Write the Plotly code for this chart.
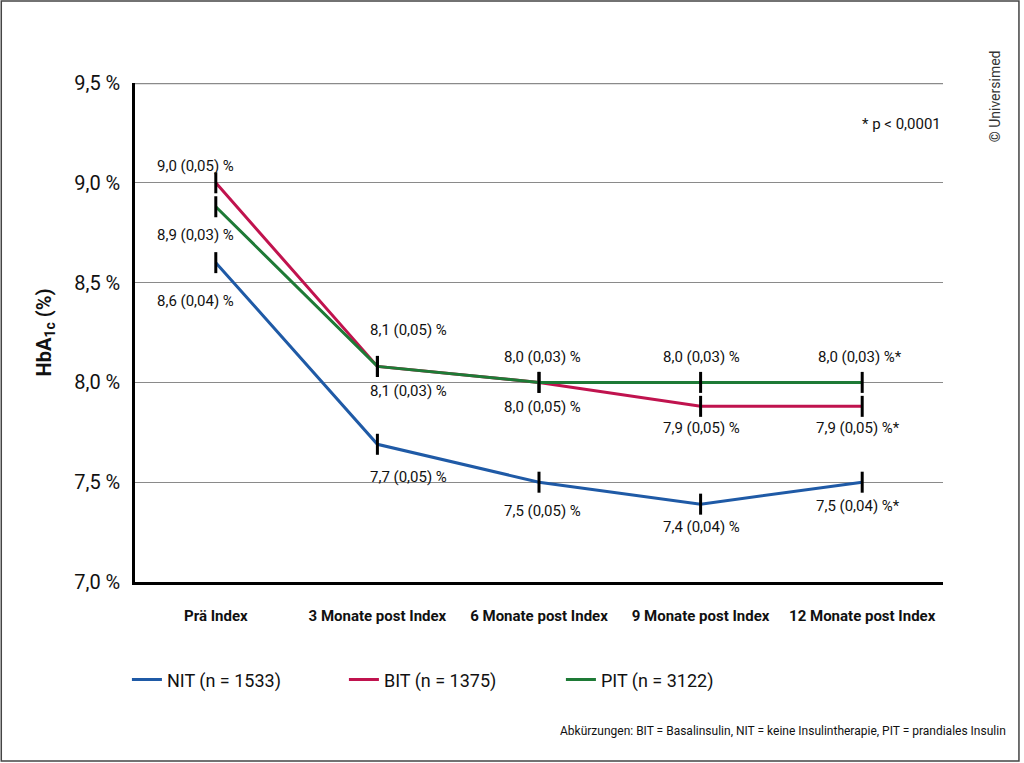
import plotly.graph_objects as go

# categories and values
zeitpunkte = ["Prä Index", "3 Monate post Index", "6 Monate post Index",
              "9 Monate post Index", "12 Monate post Index"]

nit = [8.60, 7.69, 7.50, 7.39, 7.50]
bit = [9.00, 8.08, 8.00, 7.88, 7.88]
pit = [8.88, 8.08, 8.00, 8.00, 8.00]

nit_labels = ["8,6 (0,04) %", "7,7 (0,05) %", "7,5 (0,05) %", "7,4 (0,04) %", "7,5 (0,04) %*"]
bit_labels = ["9,0 (0,05) %", "8,1 (0,05) %", "8,0 (0,05) %", "7,9 (0,05) %", "7,9 (0,05) %*"]
pit_labels = ["8,9 (0,03) %", "8,1 (0,03) %", "8,0 (0,03) %", "8,0 (0,03) %", "8,0 (0,03) %*"]

y_ticks = [7.0, 7.5, 8.0, 8.5, 9.0, 9.5]
y_ticktext = ["7,0 %", "7,5 %", "8,0 %", "8,5 %", "9,0 %", "9,5 %"]

FONT = "Roboto"

series = [
    ("NIT (n = 1533)", nit, nit_labels, "#1f5aa6"),
    ("BIT (n = 1375)", bit, bit_labels, "#c0134e"),
    ("PIT (n = 3122)", pit, pit_labels, "#1e7a36"),
]

# label offsets in pixels (x shift, y shift) per series and time point
offsets = {
    "NIT (n = 1533)": [(-20, -38), (31, -33), (3, -29), (1, -23), (-4, -24)],
    "BIT (n = 1375)": [(-20, 17), (31, 36), (3, -25), (1, -22), (-4, -22)],
    "PIT (n = 3122)": [(-20, -28), (31, -25), (3, 25), (1, 25), (-2, 25)],
}

fig = go.Figure()
annotations = []

for name, vals, labels, color in series:
    # line (also used for the legend)
    fig.add_trace(go.Scatter(
        x=zeitpunkte, y=vals, name=name, mode="lines",
        line=dict(color=color, width=3),
    ))
    # black tick marks at the points
    fig.add_trace(go.Scatter(
        x=zeitpunkte, y=vals, mode="markers", showlegend=False, hoverinfo="skip",
        marker=dict(symbol="line-ns", size=15, color="black",
                    line=dict(color="black", width=3)),
    ))
    for i, (xv, yv, lab) in enumerate(zip(zeitpunkte, vals, labels)):
        dx, dy = offsets[name][i]
        annotations.append(dict(
            x=xv, y=yv, xref="x", yref="y", text=lab, showarrow=False,
            xshift=dx, yshift=dy, font=dict(family=FONT, size=15, color="#111"),
        ))

annotations += [
    dict(x=1, y=0.94, xref="paper", yref="paper", text="* p < 0,0001",
         showarrow=False, xanchor="right", font=dict(family=FONT, size=15, color="#111")),
    dict(x=1.081, y=-0.317, xref="paper", yref="paper",
         text="Abkürzungen: BIT = Basalinsulin, NIT = keine Insulintherapie, PIT = prandiales Insulin",
         showarrow=False, xanchor="right", font=dict(family=FONT, size=12, color="#111")),
    dict(x=1.077, y=1.07, xref="paper", yref="paper", text="© Universimed",
         showarrow=False, textangle=-90, font=dict(family=FONT, size=14, color="#333")),
]

fig.update_layout(
    width=1024, height=763,
    margin=dict(l=135, r=81, t=83, b=181),
    paper_bgcolor="white", plot_bgcolor="white",
    font=dict(family=FONT, color="#111"),
    annotations=annotations,
    showlegend=True,
    legend=dict(orientation="h", x=-0.01, y=-0.196, yanchor="middle", xanchor="left",
                entrywidth=172, entrywidthmode="pixels", itemwidth=30,
                font=dict(family=FONT, size=18, color="#111")),
    shapes=[
        # outer frame
        dict(type="rect", xref="paper", yref="paper",
             x0=-0.1655, x1=1.094, y0=-0.3587, y1=1.1643,
             line=dict(color="#444", width=1.5)),
        # top gridline (half of it is clipped at the plot edge)
        dict(type="line", xref="paper", yref="y", x0=0, x1=1,
             y0=y_ticks[-1], y1=y_ticks[-1], line=dict(color="#8a8a8a", width=2.5)),
    ],
)

fig.update_xaxes(
    type="category", range=[-0.5, 4.5],
    showline=True, linecolor="black", linewidth=2.5,
    showgrid=False, ticks="outside", ticklen=0, ticklabelstandoff=18,
    tickfont=dict(family=FONT, size=15, color="#111", weight="bold"),
)

fig.update_yaxes(
    range=[7.0, 9.5], tickvals=y_ticks, ticktext=y_ticktext,
    showline=True, linecolor="black", linewidth=2.5,
    showgrid=True, gridcolor="#8a8a8a", gridwidth=1, zeroline=False,
    ticks="outside", ticklen=0, ticklabelstandoff=8,
    tickfont=dict(family=FONT, size=20, color="#111"),
    title=dict(text="<b>HbA<sub>1c</sub> (%)</b>", standoff=18,
               font=dict(family=FONT, size=20, color="#111")),
)

fig.write_html("out.html", config={"displayModeBar": False},
               post_script="document.body.style.margin='0';")
